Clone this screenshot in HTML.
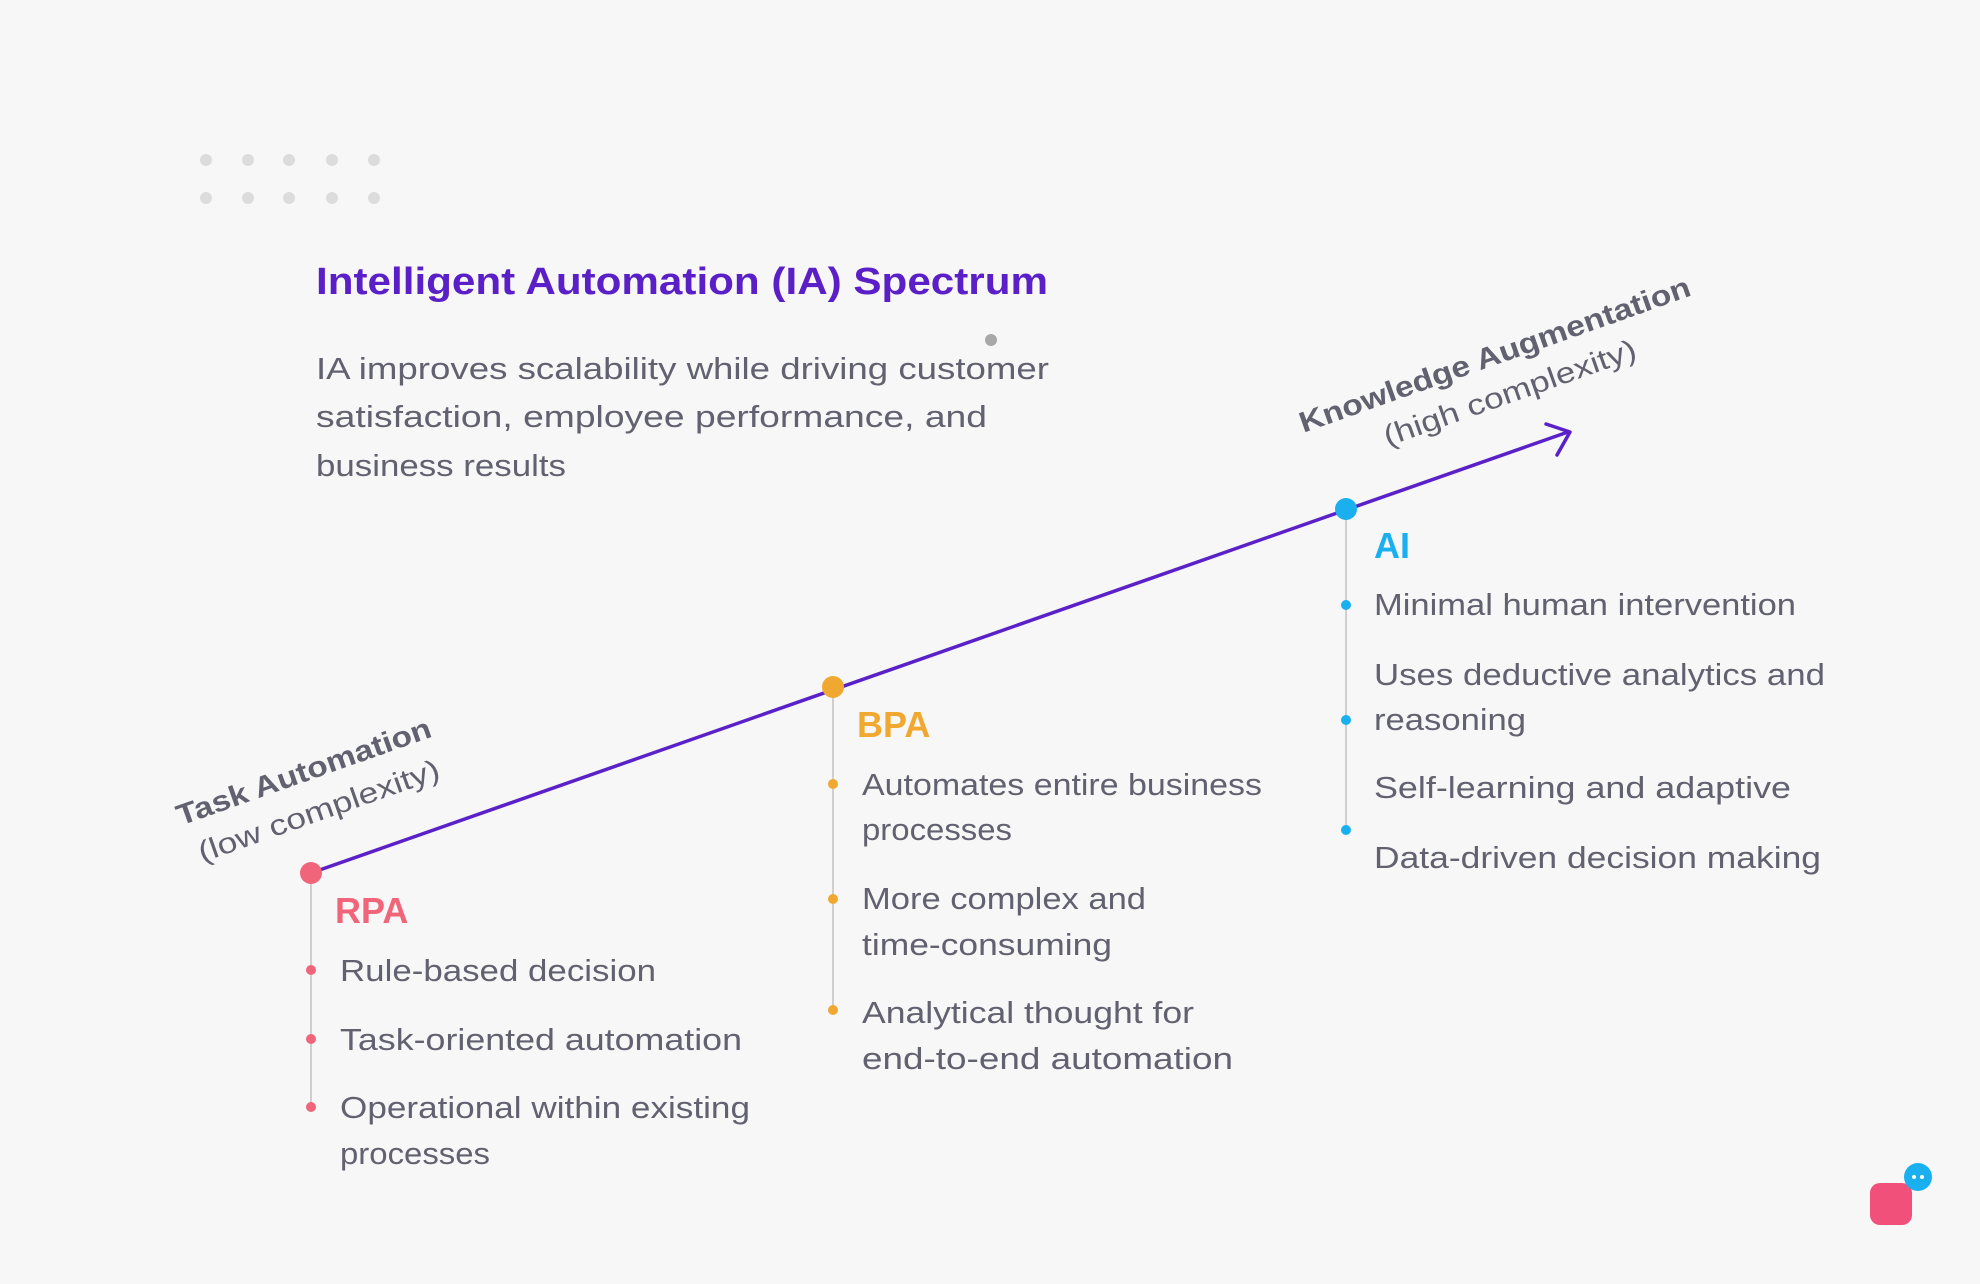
<!DOCTYPE html>
<html><head><meta charset="utf-8"><style>
html,body{margin:0;padding:0;background:#f7f7f7;}
svg{display:block;}
text{font-family:"Liberation Sans",sans-serif;}
</style></head><body>
<svg width="1980" height="1284" viewBox="0 0 1980 1284" xmlns="http://www.w3.org/2000/svg">
<rect width="1980" height="1284" fill="#f7f7f7"/>
<g fill="#dcdcdc">
<circle cx="206" cy="160" r="6"/><circle cx="248" cy="160" r="6"/><circle cx="289" cy="160" r="6"/><circle cx="332" cy="160" r="6"/><circle cx="374" cy="160" r="6"/>
<circle cx="206" cy="198" r="6"/><circle cx="248" cy="198" r="6"/><circle cx="289" cy="198" r="6"/><circle cx="332" cy="198" r="6"/><circle cx="374" cy="198" r="6"/>
</g>
<circle cx="991" cy="340" r="6" fill="#a8a8a8"/>
<text x="316" y="294" font-size="38" font-weight="bold" fill="#5b1fc7" textLength="732" lengthAdjust="spacingAndGlyphs">Intelligent Automation (IA) Spectrum</text>
<g font-size="31" fill="#626170">
<text x="316" y="379" textLength="733" lengthAdjust="spacingAndGlyphs">IA improves scalability while driving customer</text>
<text x="316" y="427" textLength="671" lengthAdjust="spacingAndGlyphs">satisfaction, employee performance, and</text>
<text x="316" y="476" textLength="250" lengthAdjust="spacingAndGlyphs">business results</text>
</g>
<g stroke="#cfcfcf" stroke-width="2">
<line x1="311" y1="873" x2="311" y2="1111"/>
<line x1="833" y1="687" x2="833" y2="1010"/>
<line x1="1346" y1="509" x2="1346" y2="830"/>
</g>
<line x1="311" y1="873" x2="1568" y2="432" stroke="#5b21c9" stroke-width="3.5"/>
<polyline points="1546,424 1570,432 1557,455" fill="none" stroke="#5b21c9" stroke-width="3.5" stroke-linecap="round" stroke-linejoin="round"/>
<circle cx="311" cy="873" r="11" fill="#f0657a"/>
<circle cx="833" cy="687" r="11" fill="#f0a830"/>
<circle cx="1346" cy="509" r="11" fill="#1ab0ef"/>
<g fill="#626170" text-anchor="middle" font-size="29">
<text transform="translate(307,781) rotate(-19.5)" font-weight="bold" textLength="268" lengthAdjust="spacingAndGlyphs">Task Automation</text>
<text transform="translate(322,820) rotate(-19.5)" textLength="254" lengthAdjust="spacingAndGlyphs">(low complexity)</text>
<text transform="translate(1498,364) rotate(-19.5)" font-weight="bold" textLength="413" lengthAdjust="spacingAndGlyphs">Knowledge Augmentation</text>
<text transform="translate(1513,402) rotate(-19.5)" textLength="266" lengthAdjust="spacingAndGlyphs">(high complexity)</text>
</g>
<text x="335" y="923" font-size="36" font-weight="bold" fill="#f0657a">RPA</text>
<text x="857" y="737" font-size="36" font-weight="bold" fill="#f0a830">BPA</text>
<text x="1374" y="558" font-size="36" font-weight="bold" fill="#1ab0ef">AI</text>
<g fill="#f0657a"><circle cx="311" cy="970" r="5"/><circle cx="311" cy="1039" r="5"/><circle cx="311" cy="1107" r="5"/></g>
<g fill="#f0a830"><circle cx="833" cy="784" r="5"/><circle cx="833" cy="899" r="5"/><circle cx="833" cy="1010" r="5"/></g>
<g fill="#1ab0ef"><circle cx="1346" cy="605" r="5"/><circle cx="1346" cy="720" r="5"/><circle cx="1346" cy="830" r="5"/></g>
<g font-size="31" fill="#626170" lengthAdjust="spacingAndGlyphs">
<text x="340" y="981" textLength="316" lengthAdjust="spacingAndGlyphs">Rule-based decision</text>
<text x="340" y="1050" textLength="402" lengthAdjust="spacingAndGlyphs">Task-oriented automation</text>
<text x="340" y="1118" textLength="410" lengthAdjust="spacingAndGlyphs">Operational within existing</text>
<text x="340" y="1164" textLength="150" lengthAdjust="spacingAndGlyphs">processes</text>
<text x="862" y="795" textLength="400" lengthAdjust="spacingAndGlyphs">Automates entire business</text>
<text x="862" y="840" textLength="150" lengthAdjust="spacingAndGlyphs">processes</text>
<text x="862" y="909" textLength="284" lengthAdjust="spacingAndGlyphs">More complex and</text>
<text x="862" y="955" textLength="250" lengthAdjust="spacingAndGlyphs">time-consuming</text>
<text x="862" y="1023" textLength="332" lengthAdjust="spacingAndGlyphs">Analytical thought for</text>
<text x="862" y="1069" textLength="371" lengthAdjust="spacingAndGlyphs">end-to-end automation</text>
<text x="1374" y="615" textLength="422" lengthAdjust="spacingAndGlyphs">Minimal human intervention</text>
<text x="1374" y="685" textLength="451" lengthAdjust="spacingAndGlyphs">Uses deductive analytics and</text>
<text x="1374" y="730" textLength="152" lengthAdjust="spacingAndGlyphs">reasoning</text>
<text x="1374" y="798" textLength="417" lengthAdjust="spacingAndGlyphs">Self-learning and adaptive</text>
<text x="1374" y="868" textLength="447" lengthAdjust="spacingAndGlyphs">Data-driven decision making</text>
</g>
<rect x="1870" y="1183" width="42" height="42" rx="10" fill="#f0507a"/>
<circle cx="1918" cy="1177" r="14" fill="#1ab0ef"/>
<circle cx="1914" cy="1177" r="2" fill="#fff"/><circle cx="1922" cy="1177" r="2" fill="#fff"/>
</svg>
</body></html>
